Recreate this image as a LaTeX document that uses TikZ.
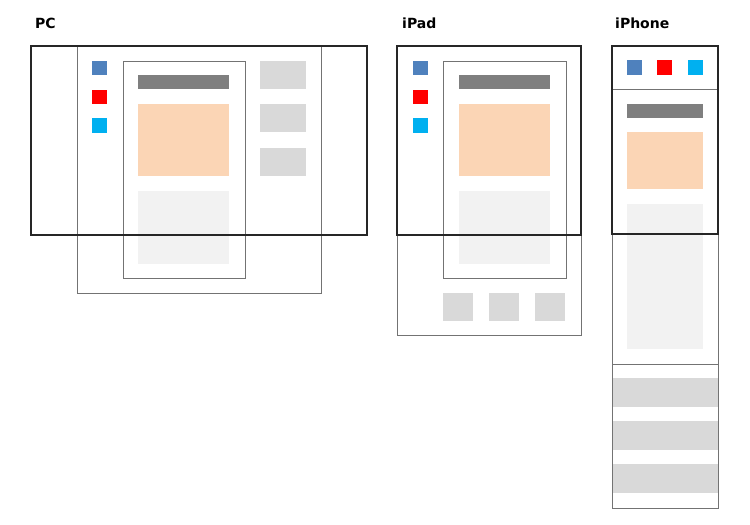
\documentclass[tikz,border=0pt]{standalone}
\usepackage{fontspec}
\setsansfont{DejaVu Sans}
\usepackage{tikz}
\definecolor{iconblue}{HTML}{4F81BD}
\definecolor{iconred}{HTML}{FF0000}
\definecolor{iconcyan}{HTML}{00B0F0}
\definecolor{bargray}{HTML}{7F7F7F}
\definecolor{imgorange}{HTML}{FBD5B5}
\definecolor{textgray}{HTML}{F2F2F2}
\definecolor{sidegray}{HTML}{D9D9D9}
\begin{document}
\begin{tikzpicture}[x=1pt, y=-1pt,
  screen/.style={draw=black!85, line width=1.4pt},
  frame/.style={draw=black!55, line width=1pt},
  title/.style={font=\sffamily\bfseries\fontsize{14}{16}\selectfont, anchor=base west, inner sep=0pt}]
\useasboundingbox[fill=white] (0,0) rectangle (750,525);

% PC
\node[title] (pclabel) at (35,28) {PC};
\draw[frame] (77,46) rectangle (321,293);
\draw[frame] (123,61) rectangle (245,278);
\fill[bargray] (138,75) rectangle (229,89);
\fill[imgorange] (138,104) rectangle (229,176);
\fill[textgray] (138,191) rectangle (229,264);
\fill[iconblue] (92,61) rectangle (107,75);
\fill[iconred] (92,90) rectangle (107,104);
\fill[iconcyan] (92,118) rectangle (107,133);
\foreach \y in {61,104,148}
  \fill[sidegray] (260,\y) rectangle (306,\y+28);
\draw[screen] (31,46) rectangle (367,235);

% iPad
\node[title] (padlabel) at (402,28) {iPad};
\draw[frame] (397,46) rectangle (581,335);
\draw[frame] (443,61) rectangle (566,278);
\fill[bargray] (459,75) rectangle (550,89);
\fill[imgorange] (459,104) rectangle (550,176);
\fill[textgray] (459,191) rectangle (550,264);
\fill[iconblue] (413,61) rectangle (428,75);
\fill[iconred] (413,90) rectangle (428,104);
\fill[iconcyan] (413,118) rectangle (428,133);
\foreach \x in {443,489,535}
  \fill[sidegray] (\x,293) rectangle (\x+30,321);
\draw[screen] (397,46) rectangle (581,235);

% iPhone
\node[title] (phonelabel) at (615,28) {iPhone};
\foreach \y in {378,421,464}
  \fill[sidegray] (612,\y) rectangle (718,\y+29);
\draw[frame] (612,46) rectangle (718,508);
\draw[frame] (612,89) -- (718,89);
\draw[frame] (612,364) -- (718,364);
\fill[iconblue] (627,60) rectangle (642,75);
\fill[iconred] (657,60) rectangle (672,75);
\fill[iconcyan] (688,60) rectangle (703,75);
\fill[bargray] (627,104) rectangle (703,118);
\fill[imgorange] (627,132) rectangle (703,189);
\fill[textgray] (627,204) rectangle (703,349);
\draw[screen] (612,46) rectangle (718,234);
\end{tikzpicture}
\end{document}
